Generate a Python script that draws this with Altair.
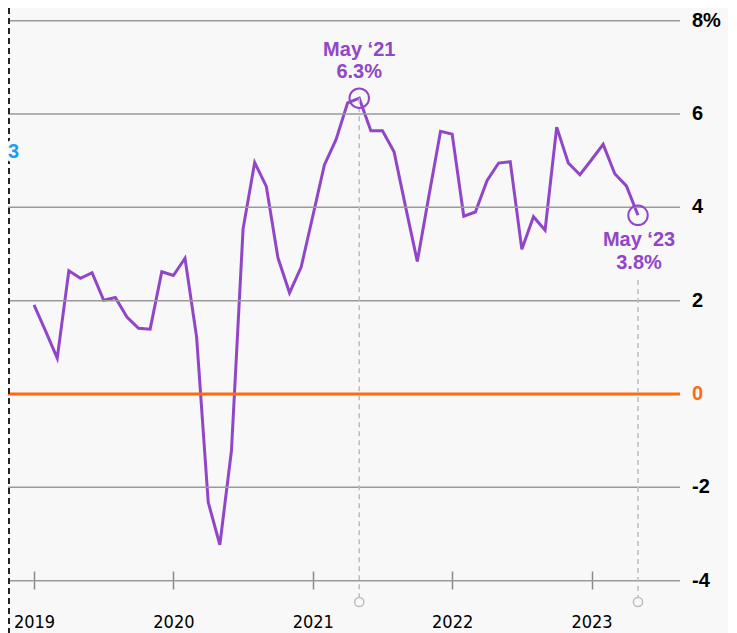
import altair as alt
import pandas as pd

# ---- data (monthly, Jan 2019 .. May 2023) ----
start_year = 2019
values = [1.91, 1.35, 0.77, 2.64, 2.48, 2.60, 2.01, 2.07, 1.65, 1.41, 1.39, 2.62,
          2.54, 2.91, 1.22, -2.32, -3.23, -1.21, 3.54, 4.96, 4.45, 2.92, 2.17, 2.72,
          3.81, 4.91, 5.45, 6.24, 6.34, 5.64, 5.64, 5.19, 4.00, 2.84, 4.25, 5.63,
          5.57, 3.81, 3.90, 4.57, 4.95, 4.98, 3.10, 3.80, 3.51, 5.72, 4.95, 4.70,
          5.02, 5.35, 4.72, 4.46, 3.83]
year_ticks = [2019, 2020, 2021, 2022, 2023]
grid_values = [-4, -2, 2, 4, 6, 8]
y_ticks = [-4, -2, 0, 2, 4, 6, 8]
y_labels = ["-4", "-2", "0", "2", "4", "6", "8%"]
ann_months = [28, 52]
ann_line1 = ["May \u201821", "May \u201823"]
ann_line2 = ["6.3%", "3.8%"]
side_label = ["3"]

PURPLE = "#9146c8"
ORANGE = "#ff6a13"
BLUE = "#1a9ff0"
GRID = "#9a9a9a"
LIGHT = "#bdbdbd"
BG = "#f8f8f8"
FONT = "Liberation Sans"
NARROW = "Liberation Sans Narrow, DejaVu Sans Condensed, Liberation Sans"

W, H = 720, 625

df = pd.DataFrame({"t": list(range(len(values))), "v": values})
ann = pd.DataFrame({"t": ann_months, "v": [values[m] for m in ann_months],
                    "l1": ann_line1, "l2": ann_line2})
grid_df = pd.DataFrame({"v": grid_values})
zero_df = pd.DataFrame({"v": [0]})
ylab_df = pd.DataFrame({"v": y_ticks, "label": y_labels,
                        "c": [ORANGE if v == 0 else "black" for v in y_ticks]})
tick_months = [(y - start_year) * 12 for y in year_ticks]

xs = alt.Scale(domain=[0, 52], range=[26, 630])
ys = alt.Scale(domain=[-4, 8], range=[572.7, 12.7])

x_axis = alt.Axis(
    values=tick_months, labelExpr="'' + (2019 + datum.value / 12)",
    title=None, grid=False, domain=False, ticks=True, tickSize=18,
    tickColor="#8a8a8a", tickWidth=1.5, labelFont=NARROW, labelFontSize=18,
    labelColor="black", labelPadding=24, labelBaseline="top",
    offset=563 - H, labelOverlap=False, labelFlush=False)

X = lambda: alt.X("t:Q", scale=xs, axis=x_axis)
Y = lambda: alt.Y("v:Q", scale=ys, axis=None)

grid = alt.Chart(grid_df).mark_rule(color=GRID, strokeWidth=1.5).encode(
    y=Y(), x=alt.value(0), x2=alt.value(672))

zero = alt.Chart(zero_df).mark_rule(color=ORANGE, strokeWidth=3).encode(
    y=Y(), x=alt.value(0), x2=alt.value(672))

ylabels = alt.Chart(ylab_df).mark_text(
    align="left", baseline="middle", font=FONT, fontSize=20, fontWeight="bold"
).encode(y=Y(), x=alt.value(684), text="label:N", color=alt.Color("c:N", scale=None))

vline1 = alt.Chart(ann.iloc[[0]]).mark_rule(color=LIGHT, strokeWidth=1.5, strokeDash=[5, 4]).encode(
    x=X(), y=Y(), y2=alt.value(589))
vline2 = alt.Chart(ann.iloc[[1]]).mark_rule(color=LIGHT, strokeWidth=1.5, strokeDash=[5, 4]).encode(
    x=X(), y=alt.value(272), y2=alt.value(589))

small_circles = alt.Chart(ann).mark_point(
    shape="circle", filled=False, color=LIGHT, strokeWidth=1.5, size=85, opacity=1
).encode(x=X(), y=alt.value(594))

line = alt.Chart(df).mark_line(color=PURPLE, strokeWidth=3, strokeJoin="miter").encode(
    x=X(), y=Y())

rings = alt.Chart(ann).mark_point(
    shape="circle", filled=False, color=PURPLE, strokeWidth=2, size=380, opacity=1
).encode(x=X(), y=Y())

texts = []
offsets = [(-48.5, -25.7, 0), (24.4, 47.4, 1)]
for i, (d1, d2, dx) in enumerate(offsets):
    sub = ann.iloc[[i]]
    for field, dy in (("l1", d1), ("l2", d2)):
        texts.append(alt.Chart(sub).mark_text(
            align="center", baseline="middle", font=FONT, fontSize=20,
            fontWeight="bold", color=PURPLE, dy=dy, dx=dx
        ).encode(x=X(), y=Y(), text=f"{field}:N"))

black_dash = alt.Chart(pd.DataFrame({"a": [0]})).mark_rule(
    color="#222222", strokeWidth=2, strokeDash=[6, 4]).encode(
    x=alt.value(1), y=alt.value(0), y2=alt.value(H))

side_df = pd.DataFrame({"s": side_label})
side_halo = alt.Chart(side_df).mark_text(
    align="left", baseline="middle", font=FONT, fontSize=20, fontWeight="bold",
    stroke=BG, strokeWidth=8, color=BG).encode(
    x=alt.value(0), y=alt.value(144), text="s:N")
side_text = alt.Chart(side_df).mark_text(
    align="left", baseline="middle", font=FONT, fontSize=20, fontWeight="bold",
    color=BLUE).encode(x=alt.value(0), y=alt.value(144), text="s:N")

chart = alt.layer(
    line, grid, zero, vline1, vline2, small_circles, rings, *texts, ylabels,
    black_dash, side_halo, side_text
).properties(
    width=W, height=H, background=BG, padding=0,
    autosize=alt.AutoSizeParams(type="none")
).configure_view(stroke=None)

chart.save("out.html", embed_options={"renderer": "svg", "actions": False})
